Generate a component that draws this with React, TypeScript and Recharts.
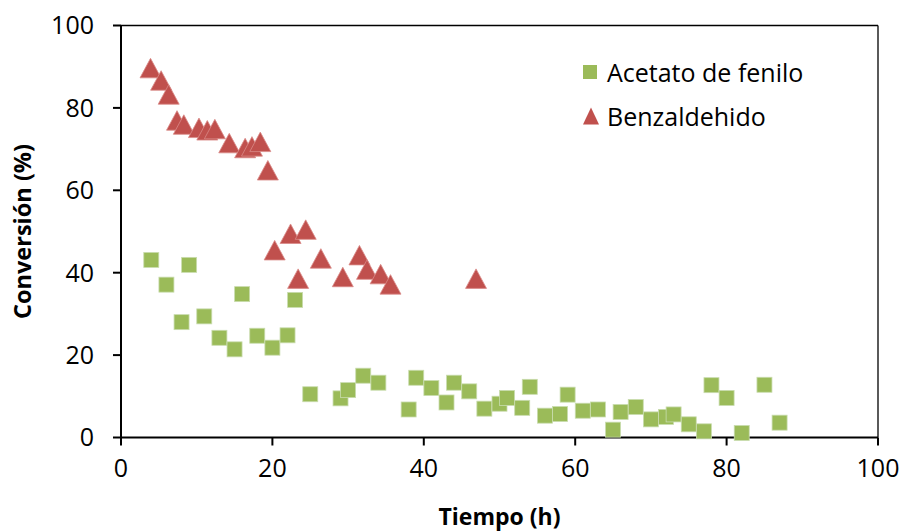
import { ScatterChart, Scatter, XAxis, YAxis, ReferenceLine } from 'recharts'

const xTicks = [0, 20, 40, 60, 80, 100]
const yTicks = [0, 20, 40, 60, 80, 100]

// Acetato de fenilo (green squares)
const acetatoTiempo = [4, 6, 8, 9, 11, 13, 15, 16, 18, 20, 22, 23, 25, 29, 30, 32, 34, 38, 39, 41, 43, 44, 46, 48, 50, 51, 53, 54, 56, 58, 59, 61, 63, 65, 66, 68, 70, 72, 73, 75, 77, 78, 80, 82, 85, 87]
const acetatoConv = [43.1, 37.1, 28.0, 41.9, 29.4, 24.2, 21.4, 34.8, 24.7, 21.8, 24.8, 33.4, 10.5, 9.5, 11.5, 15.0, 13.3, 6.8, 14.5, 12.0, 8.5, 13.3, 11.2, 7.0, 8.2, 9.6, 7.2, 12.3, 5.3, 5.7, 10.4, 6.5, 6.8, 1.9, 6.2, 7.4, 4.4, 5.0, 5.6, 3.2, 1.5, 12.7, 9.6, 1.1, 12.8, 3.6]

// Benzaldehido (red triangles)
const benzTiempo = [3.9, 5.3, 6.3, 7.4, 8.3, 10.3, 11.4, 12.4, 14.3, 16.4, 17.3, 18.4, 19.4, 20.3, 22.4, 23.4, 24.4, 26.4, 29.3, 31.5, 32.5, 34.3, 35.6, 46.9]
const benzConv = [89.6, 86.6, 83.2, 76.9, 75.9, 75.1, 74.5, 74.8, 71.4, 70.2, 70.6, 71.7, 64.8, 45.4, 49.4, 38.5, 50.4, 43.4, 38.9, 44.2, 40.7, 39.6, 37.1, 38.5]

const acetatoData = acetatoTiempo.map((x, i) => ({ x, y: acetatoConv[i] }))
const benzData = benzTiempo.map((x, i) => ({ x, y: benzConv[i] }))

const GREEN = '#9BBB59'
const RED = '#C0504D'
const FONT = '"Open Sans", "Noto Sans", sans-serif'

const Square = (props: any) => {
  const { cx, cy } = props
  if (cx == null || cy == null) return null
  return <rect x={cx - 7.5} y={cy - 7.5} width={15} height={15} fill={GREEN} stroke="#c9dcae" strokeWidth={0.8} />
}

const Triangle = (props: any) => {
  const { cx, cy } = props
  if (cx == null || cy == null) return null
  return (
    <polygon
      points={`${cx},${cy - 10} ${cx + 10.5},${cy + 9.5} ${cx - 10.5},${cy + 9.5}`}
      fill={RED}
      stroke="#d98a88"
      strokeWidth={0.8}
    />
  )
}

const legendItems = [
  { name: 'Acetato de fenilo', color: GREEN, shape: 'square' },
  { name: 'Benzaldehido', color: RED, shape: 'triangle' },
]

export default function App() {
  return (
    <div style={{ position: 'absolute', left: 0, top: 0, width: 903, height: 532, background: '#fff', fontFamily: FONT }}>
      <ScatterChart width={903} height={532} margin={{ top: 25.5, right: 25, bottom: 0, left: 0 }}>
        <XAxis
          type="number"
          dataKey="x"
          domain={[0, 100]}
          ticks={xTicks}
          height={94.5}
          axisLine={{ stroke: '#000', strokeWidth: 2 }}
          tickLine={{ stroke: '#000', strokeWidth: 2 }}
          tickSize={8}
          tickMargin={14}
          tick={{ fill: '#000', fontSize: 25, fontFamily: FONT }}
          label={{ value: 'Tiempo (h)', position: 'insideBottom', offset: 7, fill: '#000', fontSize: 23, fontWeight: 700, fontFamily: FONT }}
        />
        <YAxis
          type="number"
          dataKey="y"
          domain={[0, 100]}
          ticks={yTicks}
          width={121}
          axisLine={{ stroke: '#000', strokeWidth: 2 }}
          tickLine={{ stroke: '#000', strokeWidth: 2 }}
          tickSize={8}
          tickMargin={19}
          tick={{ fill: '#000', fontSize: 25, fontFamily: FONT }}
          label={{
            content: (p: any) => {
              const vb = p.viewBox || {}
              const cy = (vb.y ?? 25.5) + (vb.height ?? 412) / 2
              return (
                <text
                  transform={`translate(31, ${cy}) rotate(-90)`}
                  textAnchor="middle"
                  fill="#000"
                  fontSize={23.5}
                  fontWeight={700}
                  fontFamily={FONT}
                >
                  Conversión (%)
                </text>
              )
            },
          }}
        />
        <ReferenceLine y={100} stroke="#000" strokeWidth={1.3} />
        <ReferenceLine x={100} stroke="#000" strokeWidth={1.3} />
        <Scatter name="Acetato de fenilo" data={acetatoData} shape={Square} isAnimationActive={false} />
        <Scatter name="Benzaldehido" data={benzData} shape={Triangle} isAnimationActive={false} />
      </ScatterChart>
      <div style={{ position: 'absolute', left: 582, top: 50 }}>
        {legendItems.map((item) => (
          <div key={item.name} style={{ display: 'flex', alignItems: 'center', height: 44, fontSize: 25, color: '#000' }}>
            <svg width={18} height={18} style={{ marginRight: 7 }}>
              {item.shape === 'square' ? (
                <rect x={1} y={2} width={14} height={14} fill={item.color} />
              ) : (
                <polygon points="9,0.5 17,17.5 1,17.5" fill={item.color} />
              )}
            </svg>
            <span>{item.name}</span>
          </div>
        ))}
      </div>
    </div>
  )
}
